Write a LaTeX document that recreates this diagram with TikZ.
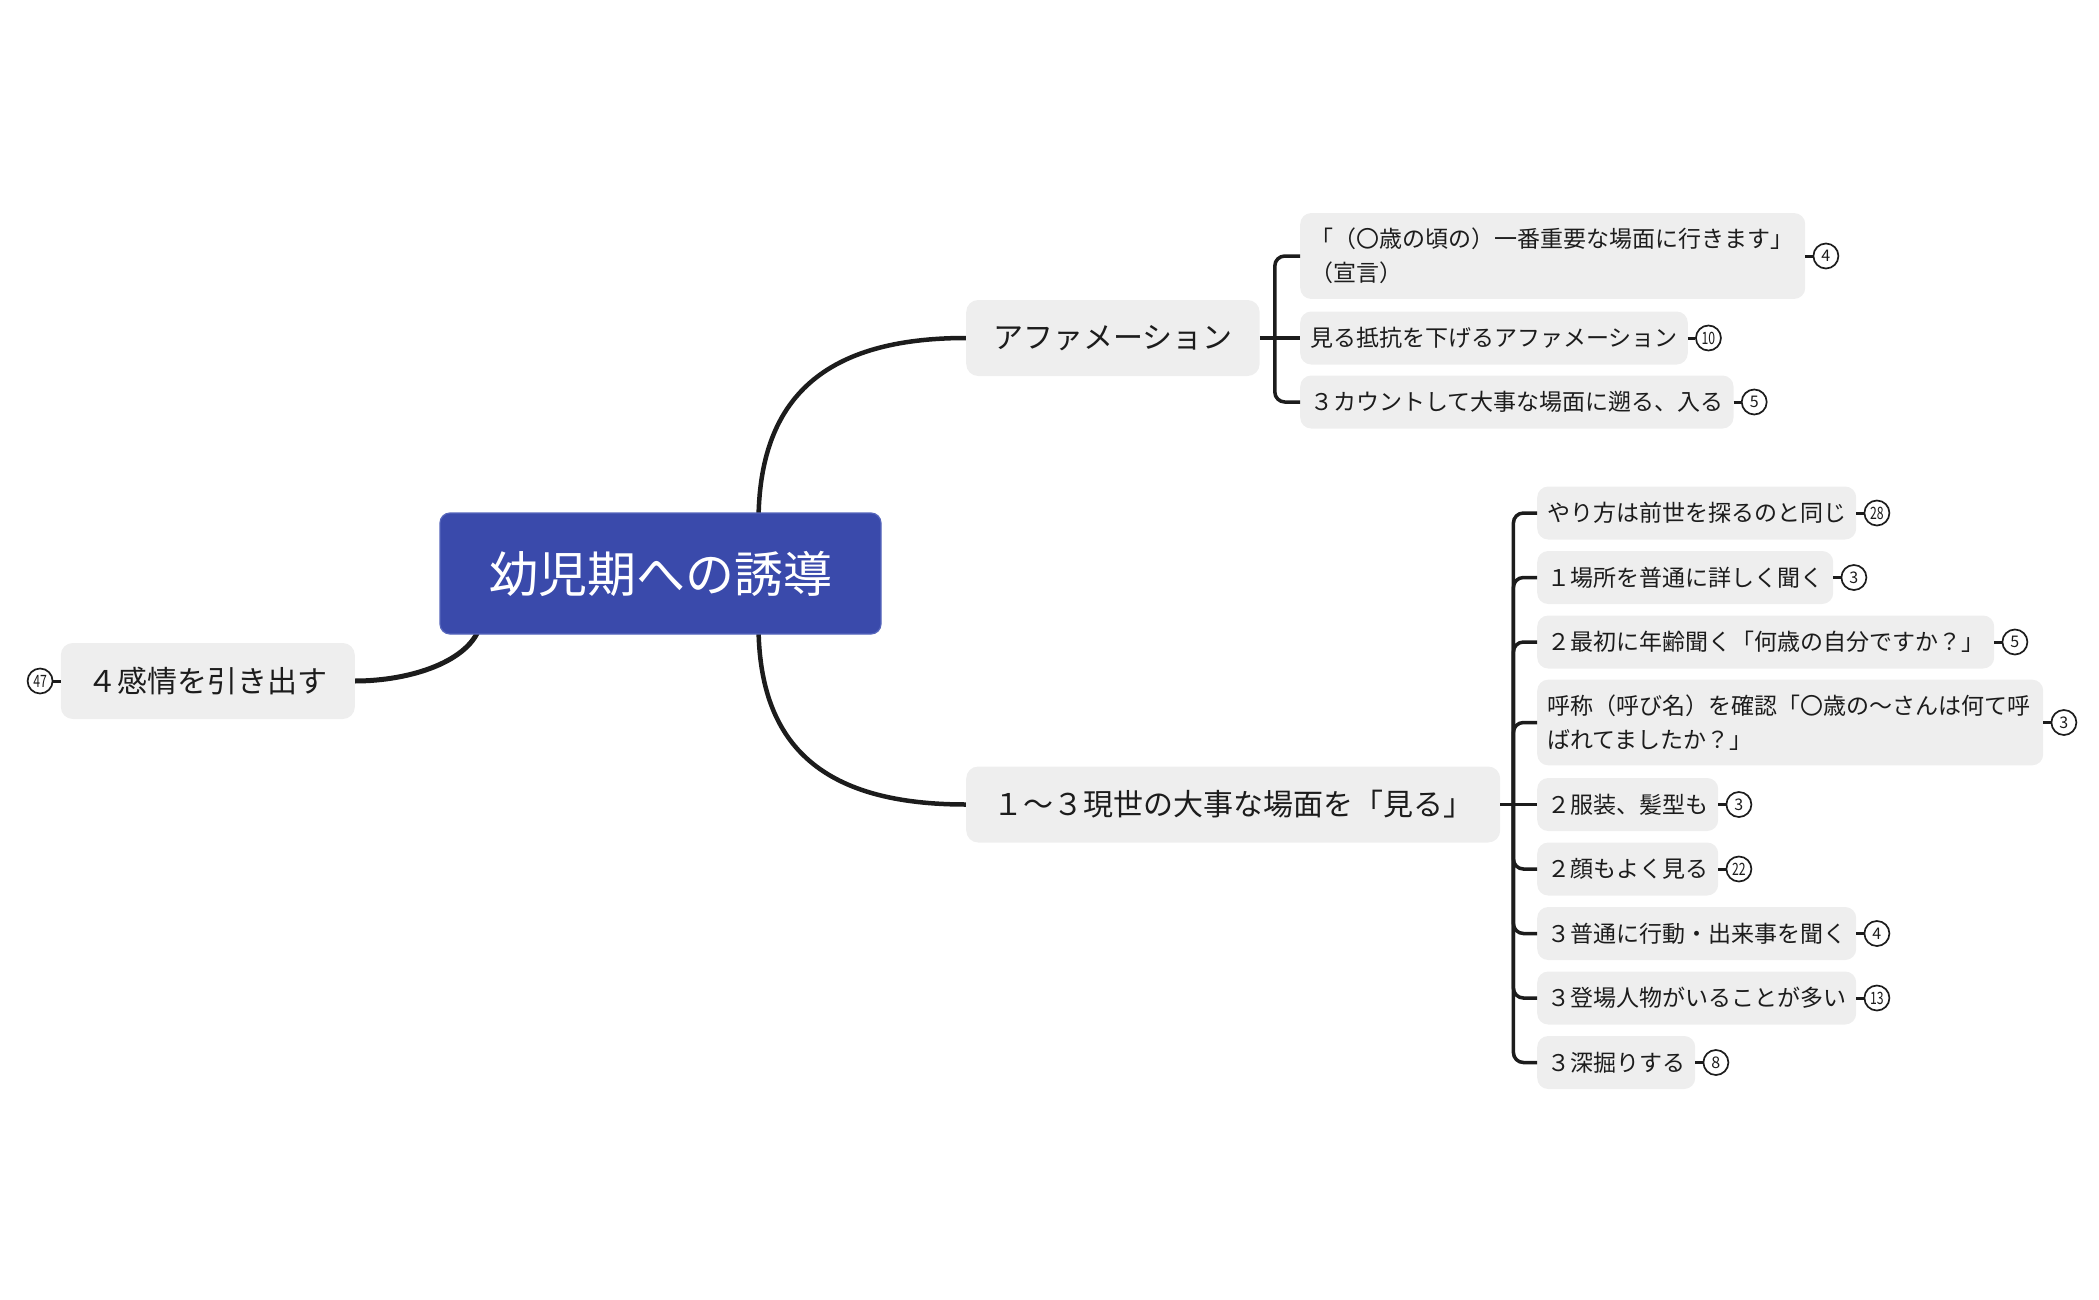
\documentclass[tikz,border=0pt]{standalone}
\usepackage{fontspec}
\usepackage{graphicx}
\setmainfont{Noto Sans CJK JP}
\usetikzlibrary{calc}
\definecolor{cblue}{HTML}{3A4AAB}
\definecolor{cedge}{HTML}{5666BC}
\definecolor{subfill}{HTML}{EEEEEE}
\definecolor{ink}{HTML}{1C1C1C}
\pgfdeclarelayer{background}
\pgfsetlayers{background,main}
\newcommand{\twodig}[1]{\scalebox{0.72}[1]{#1}}
\begin{document}
\begin{tikzpicture}[x=1pt,y=-1pt,
  central/.style={fill=cblue, draw=cedge, line width=1.2pt, rounded corners=10pt, text=white,
    font=\fontsize{49}{56}\selectfont, minimum width=441pt, minimum height=121pt, inner sep=0pt},
  maintopic/.style={fill=subfill, rounded corners=12pt, text=ink, font=\fontsize{30}{36}\selectfont,
    minimum height=76pt, inner xsep=27pt, inner ysep=0pt},
  subtopic/.style={fill=subfill, rounded corners=11pt, text=ink, font=\fontsize{23}{34}\selectfont,
    minimum height=53pt, inner xsep=10pt, inner ysep=15pt, anchor=west},
  badge/.style={circle, draw=ink, line width=1.7pt, fill=white, minimum size=25pt, inner sep=0pt,
    font=\fontsize{16}{16}\selectfont, text=ink},
  badgetwo/.style={badge, font=\fontsize{17}{17}\selectfont},
  mainlink/.style={draw=ink, line width=4.5pt},
  branch/.style={draw=ink, line width=3.5pt, rounded corners=10pt},
  tick/.style={draw=ink, line width=3pt},
]
\useasboundingbox (0,0) rectangle (2099,1300);

% central and main topics
\node[central] (ctr) at (660.5,573.5) {幼児期への誘導};
\node[maintopic, anchor=west] (aff) at (966,338) {アファメーション};
\node[maintopic, anchor=west] (see) at (966,804.5) {１〜３現世の大事な場面を「見る」};
\node[maintopic, anchor=east] (emo) at (355,681) {４感情を引き出す};

% group 1
\node[subtopic, text width=485pt, align=left] (a1) at (1300,256) {「（〇歳の頃の）一番重要な場面に行きます」\\（宣言）};
\node[subtopic] (a2) at (1300,338) {見る抵抗を下げるアファメーション};
\node[subtopic] (a3) at (1300,402) {３カウントして大事な場面に遡る、入る};

% group 2
\node[subtopic] (b1) at (1537,513) {やり方は前世を探るのと同じ};
\node[subtopic] (b2) at (1537,577.5) {１場所を普通に詳しく聞く};
\node[subtopic] (b3) at (1537,642) {２最初に年齢聞く「何歳の自分ですか？」};
\node[subtopic, text width=486pt, align=left] (b4) at (1537,722.5) {呼称（呼び名）を確認「〇歳の〜さんは何て呼\\ばれてましたか？」};
\node[subtopic] (b5) at (1537,804.5) {２服装、髪型も};
\node[subtopic] (b6) at (1537,869) {２顔もよく見る};
\node[subtopic] (b7) at (1537,933.5) {３普通に行動・出来事を聞く};
\node[subtopic] (b8) at (1537,998) {３登場人物がいることが多い};
\node[subtopic] (b9) at (1537,1062.5) {３深掘りする};

% badges
\node[badge]    (ka1) at ($(a1.east)+(20.5,0)$) {4};
\node[badgetwo] (ka2) at ($(a2.east)+(20.5,0)$) {\twodig{10}};
\node[badge]    (ka3) at ($(a3.east)+(20.5,0)$) {5};
\node[badgetwo] (kb1) at ($(b1.east)+(20.5,0)$) {\twodig{28}};
\node[badge]    (kb2) at ($(b2.east)+(20.5,0)$) {3};
\node[badge]    (kb3) at ($(b3.east)+(20.5,0)$) {5};
\node[badge]    (kb4) at ($(b4.east)+(20.5,0)$) {3};
\node[badge]    (kb5) at ($(b5.east)+(20.5,0)$) {3};
\node[badgetwo] (kb6) at ($(b6.east)+(20.5,0)$) {\twodig{22}};
\node[badge]    (kb7) at ($(b7.east)+(20.5,0)$) {4};
\node[badgetwo] (kb8) at ($(b8.east)+(20.5,0)$) {\twodig{13}};
\node[badge]    (kb9) at ($(b9.east)+(20.5,0)$) {8};
\node[badgetwo] (kemo) at ($(emo.west)+(-20.5,0)$) {\twodig{47}};

\foreach \n in {a1,a2,a3,b1,b2,b3,b4,b5,b6,b7,b8,b9}
  \draw[tick] (\n.east) -- (k\n.west);
\draw[tick] (emo.west) -- (kemo.east);

% junctions
\coordinate (j1) at ($(aff.east)+(15,0)$);
\coordinate (j2) at ($(see.east)+(13,0)$);

\draw[branch] (aff.east) -- (a2.west);
\draw[branch] (j1) |- (a1.west);
\draw[branch] (j1) |- (a3.west);

\draw[branch] (see.east) -- (b5.west);
\foreach \n in {b1,b2,b3,b4,b6,b7,b8,b9}
  \draw[branch] (j2) |- (\n.west);

% main links
\begin{pgfonlayer}{background}
\draw[mainlink] ($(ctr.north)+(98,10)$) .. controls ($(ctr.north)+(98,-117)$) and ($(aff.west)+(-139,0)$) .. (aff.west);
\draw[mainlink] ($(ctr.south)+(98,-10)$) .. controls ($(ctr.south)+(98,115)$) and ($(see.west)+(-139,0)$) .. (see.west);
\draw[mainlink, line width=5pt] ($(ctr.south)+(-180,-10)$) .. controls ($(ctr.south)+(-190,27)$) and ($(emo.east)+(55,0)$) .. (emo.east);
\end{pgfonlayer}
\end{tikzpicture}
\end{document}
